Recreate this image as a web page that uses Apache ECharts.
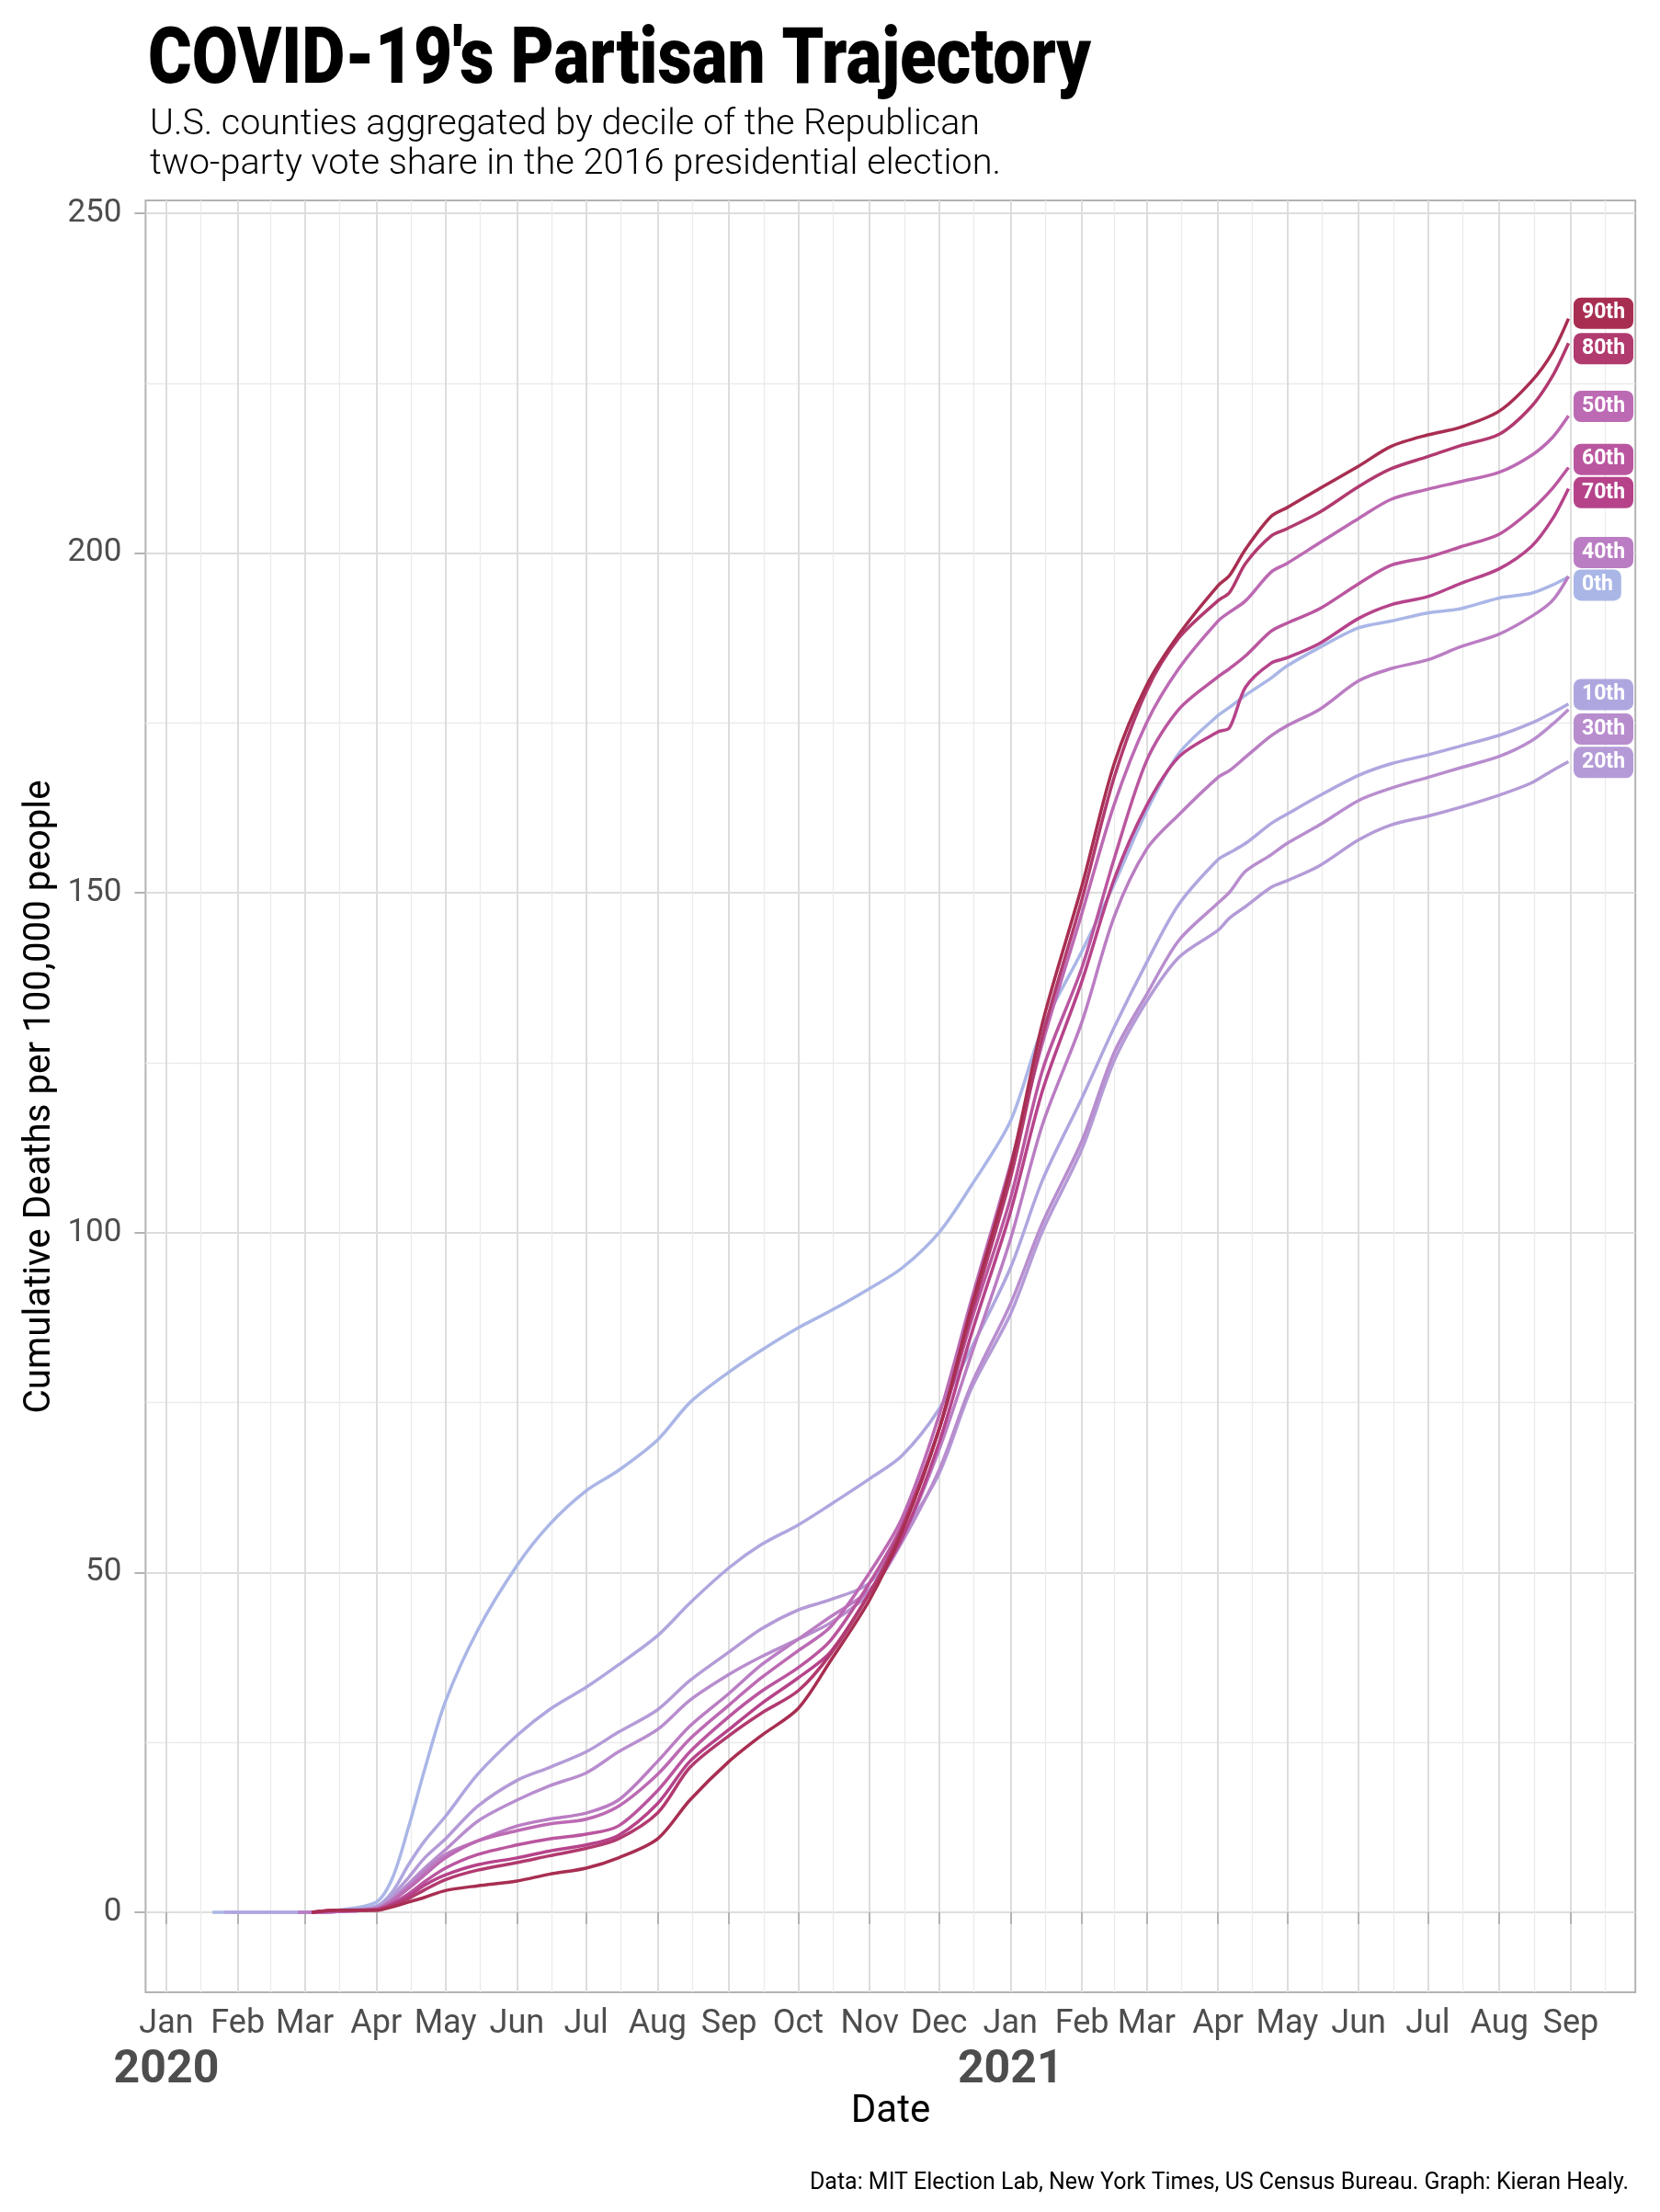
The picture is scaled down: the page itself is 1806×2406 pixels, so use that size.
<!DOCTYPE html>
<html>
<head>
<meta charset="utf-8">
<script src="https://cdn.jsdelivr.net/npm/echarts@6/dist/echarts.min.js"></script>
<style>
html,body{margin:0;padding:0;background:#fff;}
#chart{width:1806px;height:2406px;}
</style>
</head>
<body>
<div id="chart"></div>
<script>
// ---------------- data ----------------
const dates = [
 '2020-01-21','2020-01-26','2020-02-27','2020-03-04','2020-03-15','2020-04-01','2020-04-08','2020-04-15','2020-04-22','2020-05-01',
 '2020-05-15','2020-06-01','2020-06-15','2020-07-01','2020-07-15','2020-08-01','2020-08-15','2020-09-01','2020-09-15','2020-10-01',
 '2020-10-15','2020-11-01','2020-11-15','2020-12-01','2020-12-15','2021-01-01','2021-01-15','2021-02-01','2021-02-15','2021-03-01',
 '2021-03-15','2021-04-01','2021-04-06','2021-04-13','2021-04-24','2021-05-01','2021-05-15','2021-06-01','2021-06-15','2021-07-01',
 '2021-07-15','2021-08-01','2021-08-15','2021-08-24','2021-08-31'
];
const p0  = [0,0,0,0,0.3,1.5,5,12.5,21,31,41.5,51,57,62,65,69.5,75,79.5,82.7,86,88.5,91.8,94.8,100,106.9,116.4,130.2,141.4,151.3,162,170.5,176.1,177.3,179.1,181.6,183.4,186.1,189,190,191.2,191.8,193.4,194.1,195.3,196.5];
const p10 = [null,0,0,0,0.1,0.9,3,7,10.5,14.1,20.3,26,29.8,33.1,36.4,40.7,45.5,50.7,54.1,57,60,63.8,67.2,74,83,94.8,107.8,119.8,130.2,139.7,148.3,154.9,155.9,157.3,160.2,161.6,164.3,167.3,169,170.3,171.6,173.2,175,176.5,177.8];
const p20 = [null,null,0,0,0.1,0.8,2.5,5.1,8,10.8,15.6,19.4,21.3,23.6,26.5,29.8,34.1,38.3,41.7,44.5,46,48.5,55.5,64.5,77,88,100.3,112.3,125.3,134,140.5,144.5,146.3,148,150.8,151.8,154,157.8,160,161.3,162.6,164.4,166.2,168,169.3];
const p30 = [null,null,0,0,0.1,0.6,2,4.2,6.5,9.2,13.4,16.5,18.6,20.5,23.6,26.9,31.2,35,37.6,40.2,42.6,47,54.5,65,77.6,89.5,101.5,113.5,126.5,135,143,148.5,150.1,153.2,155.6,157.3,160,163.6,165.4,167,168.4,170.1,172.4,174.8,177];
const p40 = [null,null,0,0,0.1,0.5,1.8,3.8,6,8.5,10.5,12.7,13.7,14.6,16.5,22.2,27.4,32.2,36.4,40.2,43.5,47.5,55,68,82,99,116,131,146.5,156.4,161.5,167,168,170,173.1,174.6,177,181.2,183,184.3,186.2,188.1,190.7,193,196.6];
const p50 = [null,null,null,0,0.1,0.5,1.7,3.5,5.5,8,10.5,12,13,13.7,15.6,20.3,25.5,30.5,34.5,38.5,42,50,58,73,90,110,128,147,163,175,183,190,191.3,193,197.2,198.5,201.5,205.1,207.9,209.4,210.5,211.9,214.4,217,220.2];
const p60 = [null,null,null,0,0.2,0.4,1.3,2.7,4.5,6.5,8.5,9.9,10.8,11.5,12.7,17.9,23.6,28.8,32.5,36,40,48.5,57,71,87,105,124,139,155,169.4,177,181.8,183,184.9,188.5,189.7,191.8,195.5,198.2,199.4,200.9,202.8,206.4,209.5,212.6];
const p70 = [null,null,null,0,0.3,0.4,1.2,2.4,4,5.5,7,8,9,9.9,11.3,16,22.2,26.9,30.7,34.5,38.3,47,55,69,85,103,121,137,152,162.8,170,173.7,174.3,180.3,183.8,184.6,186.7,190.4,192.4,193.6,195.5,197.7,201,205,209.5];
const p80 = [null,null,null,0,0.3,0.3,1,2,3.3,4.8,6.2,7.3,8.3,9.4,10.8,14.6,21.3,26,29.3,32.6,38,47,56.5,71,88,108,129,149,167,179.7,187.5,193,194.2,198.5,202.5,203.6,206,209.8,212.4,214.2,215.8,217.5,221.6,226,230.9];
const p90 = [null,null,null,0,0.3,0.3,0.8,1.5,2.2,3.2,3.9,4.6,5.6,6.5,8,10.8,16.5,22.2,26,30,37,46,56,71,89,109.5,131,151,169,180.5,188,195.2,196.7,200.6,205.4,206.7,209.5,212.8,215.7,217.4,218.5,220.9,225.3,229.5,234.5];

const deciles = ['0th','10th','20th','30th','40th','50th','60th','70th','80th','90th'];
const decileValues = [p0,p10,p20,p30,p40,p50,p60,p70,p80,p90];
// repelled label positions (value units) and the date they sit beside
const labelValues = [195.3,179.2,169.2,174.1,200.1,221.6,213.8,208.9,230.1,235.3];
const labelDate = '2021-09-02';

const monthNames = ['Jan','Feb','Mar','Apr','May','Jun','Jul','Aug','Sep','Oct','Nov','Dec'];
const yTicks = [0,50,100,150,200,250];

// ---------------- styles ----------------
const colors = ['#AAB6E6','#AEA7DF','#B49BD7','#B88DCE','#BA7DC3','#BC6AB3','#BA569F','#B6438A','#B13A6F','#A82E51'];
const FONT = 'Roboto, "Noto Sans", sans-serif';
const axisGray = '#4D4D4D';
const frameGray = '#B3B3B3';
const majorGrid = '#DDDDDD';
const minorGrid = '#EBEBEB';

// daily category axis spanning the panel
const cats = [];
const start = Date.UTC(2019, 11, 23);
for (let i = 0; i < 647; i++) {
  const d = new Date(start + i * 86400000);
  cats.push(d.toISOString().slice(0, 10));
}
const catIndex = {};
cats.forEach((c, i) => { catIndex[c] = i; });

const isMonthStart = (i, v) => v.slice(8) === '01';
const isYearStart = (i, v) => v.slice(5) === '01-01';
const isMidMonth = (i, v) => (v.slice(5, 7) === '02' ? v.slice(8) === '15' : v.slice(8) === '16');

// text fitting
const cv = document.createElement('canvas').getContext('2d');
function fitScale(text, font, target) {
  cv.font = font;
  return target / cv.measureText(text).width;
}

const titleText = "COVID-19's Partisan Trajectory";
const titleFont = '900 86px Roboto';
const sub1 = 'U.S. counties aggregated by decile of the Republican';
const sub2 = 'two-party vote share in the 2016 presidential election.';
const subFont = '300 38px Roboto';
const yTitle = 'Cumulative Deaths per 100,000 people';
const yTitleFont = '40px Roboto';
const caption = 'Data: MIT Election Lab, New York Times, US Census Bureau. Graph: Kieran Healy.';
const capFont = '26px Roboto';

function textEl(text, font, x, y, align, target, extra) {
  const s = target ? fitScale(text, font, target) : 1;
  return Object.assign({
    type: 'text', x: x, y: y, scaleX: s, scaleY: 1,
    style: {
      text: text, font: font, fill: '#000',
      align: align, textAlign: align,
      verticalAlign: 'middle', textVerticalAlign: 'middle'
    }
  }, extra || {});
}

// ---------------- series ----------------
const series = deciles.map((name, k) => ({
  name: name,
  type: 'line',
  xAxisIndex: 0, yAxisIndex: 0,
  showSymbol: false, symbol: 'none',
  smooth: 0.3,
  z: 3 + k,
  lineStyle: { color: colors[k], width: 3.5 },
  itemStyle: { color: colors[k] },
  emphasis: { disabled: true },
  data: dates.map((d, j) => decileValues[k][j] == null ? null : [catIndex[d], decileValues[k][j]]).filter(p => p)
}));

series.push({
  type: 'scatter',
  xAxisIndex: 0, yAxisIndex: 0,
  symbolSize: 1,
  z: 20,
  emphasis: { disabled: true },
  itemStyle: { color: 'transparent', opacity: 1 },
  data: deciles.map((name, k) => ({
    value: [catIndex[labelDate], labelValues[k]],
    label: {
      show: true, position: 'right', distance: 0,
      formatter: name,
      color: '#fff', fontFamily: FONT, fontWeight: 'bold', fontSize: 23,
      backgroundColor: colors[k], borderRadius: 8, opacity: 1,
      padding: [5, 9, 3, 9], lineHeight: 26
    }
  }))
});

// ---------------- chart ----------------
const chart = echarts.init(document.getElementById('chart'), null, { renderer: 'canvas', width: 1806, height: 2406 });

const panelLeft = 158.4, panelRight = 1779.2, panelTop = 218, panelBottom = 2167;
const yMin = -11.77, yMax = 251.9;

chart.setOption({
  animation: false,
  backgroundColor: '#fff',
  grid: [
    { left: panelLeft, right: 1806 - panelRight, top: panelTop, bottom: 2406 - panelBottom,
      show: true, borderColor: frameGray, borderWidth: 2, backgroundColor: 'transparent' },
    { left: panelLeft, right: 1806 - panelRight, top: 232, bottom: 2406 - 2080, show: false }
  ],
  xAxis: [
    { type: 'category', gridIndex: 0, data: cats, boundaryGap: false,
      axisLine: { show: false },
      axisTick: { show: true, interval: isMonthStart, length: 13, lineStyle: { color: frameGray, width: 2 } },
      axisLabel: {
        show: true, interval: isMonthStart, margin: 15,
        showMinLabel: true, showMaxLabel: true, hideOverlap: false,
        fontFamily: FONT, fontSize: 36, color: axisGray, lineHeight: 40,
        formatter: function (v) { return monthNames[+v.slice(5, 7) - 1]; }
      },
      splitLine: { show: true, interval: isMonthStart, lineStyle: { color: majorGrid, width: 2 } }
    },
    { type: 'category', gridIndex: 0, data: cats, boundaryGap: false, position: 'bottom',
      axisLine: { show: false }, axisTick: { show: false },
      axisLabel: {
        show: true, interval: isYearStart, margin: 58,
        showMinLabel: true, showMaxLabel: true, hideOverlap: false,
        fontFamily: FONT, fontSize: 50, fontWeight: 'bold', color: axisGray, lineHeight: 54,
        formatter: function (v) { return v.slice(0, 4); }
      },
      splitLine: { show: true, interval: isMidMonth, lineStyle: { color: minorGrid, width: 1.3 } }
    },
    { type: 'value', gridIndex: 1, show: false, min: 0, max: 1 }
  ],
  yAxis: [
    { type: 'value', gridIndex: 0, min: yMin, max: yMax, show: false, splitLine: { show: false } },
    { type: 'value', gridIndex: 1, min: yTicks[0], max: yTicks[yTicks.length - 1], interval: 50,
      axisLine: { show: false },
      axisTick: { show: true, length: 12, lineStyle: { color: frameGray, width: 2 } },
      axisLabel: { show: true, margin: 26, color: axisGray, fontFamily: FONT, fontSize: 35,
                   showMinLabel: true, showMaxLabel: true },
      splitLine: { show: true, lineStyle: { color: majorGrid, width: 2 } },
      minorTick: { show: false, splitNumber: 2 },
      minorSplitLine: { show: true, lineStyle: { color: minorGrid, width: 1.3 } }
    }
  ],
  series: series,
  graphic: [
    textEl(titleText, titleFont, 161, 68, 'left', 1026),
    textEl(sub1, subFont, 163, 136, 'left', 903),
    textEl(sub2, subFont, 163, 179, 'left', 926),
    textEl(yTitle, yTitleFont, 43.5, 1193, 'center', 689, { rotation: Math.PI / 2 }),
    textEl('Date', '42px Roboto', 969, 2297, 'center', null),
    textEl(caption, capFont, 1772, 2374, 'right', 891)
  ]
});
</script>
</body>
</html>
